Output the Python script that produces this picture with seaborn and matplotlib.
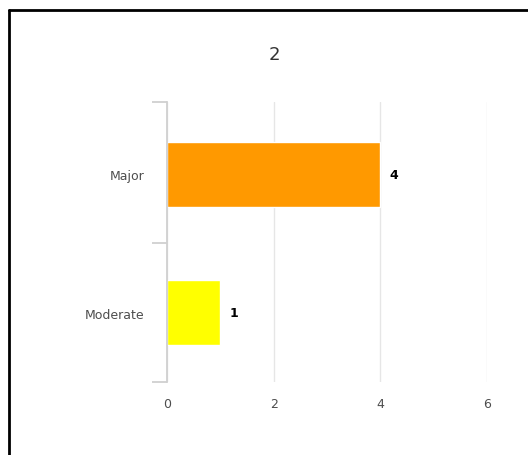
import matplotlib
matplotlib.use("Agg")
import matplotlib.pyplot as plt
import seaborn as sns
import pandas as pd
from matplotlib.lines import Line2D

categories = ["Major", "Moderate"]
counts = [4, 1]
colors = ["#FF9900", "#FFFF00"]
title = "2"
x_ticks = [0, 2, 4, 6]

df = pd.DataFrame({"category": categories, "count": counts})

sns.set_style("white")
plt.rcParams["font.family"] = ["DejaVu Sans"]

fig = plt.figure(figsize=(5.28, 4.56), dpi=100)
ax = fig.add_axes([167 / 528, 1 - 383 / 456, 320 / 528, 280 / 456])

sns.barplot(data=df, x="count", y="category", hue="category",
            palette=colors, orient="h", width=0.47, ax=ax, legend=False,
            saturation=1)

ax.set_xlim(0, 6)
ax.set_ylim(1.5, -0.52)
ax.set_xticks(x_ticks)
ax.set_xticklabels([str(t) for t in x_ticks])
ax.grid(axis="x", color="#e6e6e6", linewidth=1)
ax.set_axisbelow(True)

for s in ["top", "right", "bottom"]:
    ax.spines[s].set_visible(False)
ax.spines["left"].set_color("#d0d0d0")
ax.spines["left"].set_linewidth(1.3)

ax.tick_params(axis="x", length=0, pad=11, labelsize=9, labelcolor="#4d4d4d")
ax.tick_params(axis="y", which="major", left=False, length=0, pad=16,
               labelsize=9, labelcolor="#4d4d4d")
ax.set_yticks([-0.52, 0.5, 1.5], minor=True)
ax.tick_params(axis="y", which="minor", left=True, length=11, width=1.3,
               color="#d0d0d0")

for i, v in enumerate(counts):
    ax.text(v + 0.18, i, str(v), va="center", ha="left", fontsize=9,
            fontweight="bold", color="#000000")

ax.set_xlabel("")
ax.set_ylabel("")
fig.text(274 / 528, 1 - 55 / 456, title, ha="center", va="center",
         fontsize=13, color="#333333")

# outer frame (top and left edges visible)
fig.add_artist(Line2D([9 / 528, 1], [1 - 11 / 456, 1 - 11 / 456],
                      color="black", linewidth=2, transform=fig.transFigure))
fig.add_artist(Line2D([9 / 528, 9 / 528], [0, 1 - 11 / 456],
                      color="black", linewidth=2, transform=fig.transFigure))

fig.savefig("out.png", dpi=100)
